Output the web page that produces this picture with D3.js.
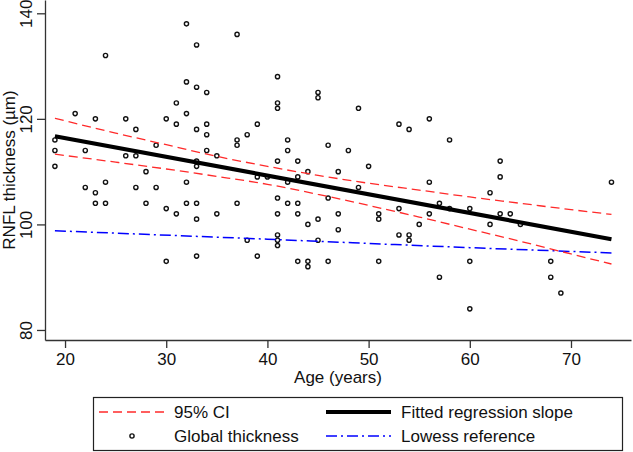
<!DOCTYPE html>
<html><head><meta charset="utf-8">
<script src="https://cdn.jsdelivr.net/npm/d3@7"></script>
<style>
html,body{margin:0;padding:0;background:#fff;}
svg{display:block;font-family:"Liberation Sans",Arial,sans-serif;}
</style></head>
<body><svg id="chart" width="633" height="452"></svg>
<script>
// ---- data ----
const ages = [19,19,19,21,22,22,23,23,23,24,24,24,26,26,27,27,27,28,28,29,29,30,30,30,31,31,31,
  32,32,32,32,32,33,33,33,33,33,33,33,33,34,34,34,34,35,35,37,37,37,37,38,38,39,39,39,40,
  41,41,41,41,41,41,41,41,41,42,42,42,42,43,43,43,43,43,44,44,44,44,45,45,45,45,46,46,46,
  47,47,47,48,49,49,50,51,51,51,53,53,53,54,54,54,55,56,56,56,57,57,58,58,60,60,60,62,62,
  63,63,63,64,65,68,68,69,74];
const thickness = [116,114,111,121,114,107,120,106,104,132,108,104,120,113,118,113,107,110,104,115,107,120,103,93,123,119,102,
  138,127,121,108,104,134,126,118,112,111,104,101,94,125,119,117,114,113,102,136,116,115,104,117,97,119,109,94,109,
  128,123,122,112,105,102,98,97,96,116,114,108,104,112,109,104,102,93,110,100,93,92,125,124,101,97,115,105,93,
  110,102,99,114,122,107,111,102,101,93,119,103,98,118,98,97,100,120,108,102,104,90,116,103,103,93,84,106,100,
  112,109,102,102,100,93,90,87,108];
const fitAges = [19, 74];
const fitValues = [116.7, 97.2];
const ciAges  = [19, 25, 30, 35, 40, 45, 50, 55, 60, 65, 70, 74];
const ciUpper = [120.1, 117.3, 115.1, 112.9, 111.0, 109.3, 107.8, 106.5, 105.2, 104.0, 102.8, 101.9];
const ciLower = [113.3, 111.8, 110.5, 109.1, 107.6, 105.7, 103.6, 101.4, 99.1, 96.8, 94.4, 92.5];
const lowessAges = [19, 40, 60, 74];
const lowessValues = [98.8, 97.2, 95.6, 94.6];
const xTicks = [20, 30, 40, 50, 60, 70];
const yTicks = [80, 100, 120, 140];
const legendLabels = ["95% CI", "Fitted regression slope", "Global thickness", "Lowess reference"];

// ---- chart ----
const svg = d3.select("#chart");
const x = d3.scaleLinear().domain([18.02, 75.93]).range([45, 631]);
const y = d3.scaleLinear().domain([78.1, 142.52]).range([340, 0]);
const font = 17;

// axes
const xAxis = svg.append("g").attr("transform", "translate(0,340)")
  .call(d3.axisBottom(x).tickValues(xTicks).tickSize(8).tickPadding(5).tickSizeOuter(0));
const yAxis = svg.append("g").attr("transform", "translate(45,0)")
  .call(d3.axisLeft(y).tickValues(yTicks).tickSize(8).tickSizeOuter(0));
[xAxis, yAxis].forEach(g => {
  g.select(".domain").attr("stroke", "#333").attr("stroke-width", 1.3);
  g.selectAll(".tick line").attr("stroke", "#333").attr("stroke-width", 1.3);
  g.selectAll(".tick text").attr("font-size", font).attr("fill", "#111")
    .attr("font-family", "Liberation Sans, Arial, sans-serif");
});
yAxis.selectAll(".tick text")
  .attr("x", null).attr("dy", null)
  .attr("text-anchor", "middle")
  .attr("transform", "translate(-13,0) rotate(-90)")
  .attr("y", 0);

// axis titles
svg.append("text").attr("x", 338).attr("y", 383).attr("text-anchor", "middle")
  .attr("font-size", font).attr("fill", "#111").text("Age (years)");
svg.append("text").attr("transform", "translate(14.5,170) rotate(-90)").attr("text-anchor", "middle")
  .attr("font-size", font).attr("fill", "#111").text("RNFL thickness (µm)");

// scatter
svg.append("g").selectAll("circle").data(ages).join("circle")
  .attr("cx", (d) => x(d)).attr("cy", (d, i) => y(thickness[i]))
  .attr("r", 2.1).attr("fill", "none").attr("stroke", "#111").attr("stroke-width", 1.4);

const line = d3.line().x(d => x(d[0])).y(d => y(d[1])).curve(d3.curveMonotoneX);

// lowess
svg.append("path").datum(lowessAges.map((a, i) => [a, lowessValues[i]]))
  .attr("d", line).attr("fill", "none").attr("stroke", "#0000ff").attr("stroke-width", 1.5)
  .attr("stroke-dasharray", "11,4,2,4");
// CI
[ciUpper, ciLower].forEach(arr => {
  svg.append("path").datum(ciAges.map((a, i) => [a, arr[i]]))
    .attr("d", line).attr("fill", "none").attr("stroke", "#ff2a2a").attr("stroke-width", 1.3)
    .attr("stroke-dasharray", "9,5");
});
// fitted
svg.append("path").datum(fitAges.map((a, i) => [a, fitValues[i]]))
  .attr("d", line).attr("fill", "none").attr("stroke", "#000").attr("stroke-width", 4.2);

// legend
const lg = svg.append("g");
lg.append("rect").attr("x", 93.5).attr("y", 397.5).attr("width", 529).attr("height", 53)
  .attr("fill", "#fff").attr("stroke", "#222").attr("stroke-width", 1.2);
const row1 = 412, row2 = 436;
lg.append("line").attr("x1", 99).attr("x2", 164).attr("y1", row1).attr("y2", row1)
  .attr("stroke", "#ff2a2a").attr("stroke-width", 1.3).attr("stroke-dasharray", "9,5");
lg.append("circle").attr("cx", 132).attr("cy", row2).attr("r", 2.1)
  .attr("fill", "none").attr("stroke", "#111").attr("stroke-width", 1.4);
lg.append("line").attr("x1", 326).attr("x2", 391).attr("y1", row1).attr("y2", row1)
  .attr("stroke", "#000").attr("stroke-width", 4.2);
lg.append("line").attr("x1", 326).attr("x2", 391).attr("y1", row2).attr("y2", row2)
  .attr("stroke", "#0000ff").attr("stroke-width", 1.5).attr("stroke-dasharray", "11,4,2,4");
const lpos = [[174, row1], [401, row1], [174, row2], [401, row2]];
lg.selectAll("text.lab").data(legendLabels).join("text").attr("class", "lab")
  .attr("x", (d, i) => lpos[i][0]).attr("y", (d, i) => lpos[i][1]).attr("dy", "0.35em")
  .attr("font-size", font).attr("fill", "#111").text(d => d);
</script></body></html>
